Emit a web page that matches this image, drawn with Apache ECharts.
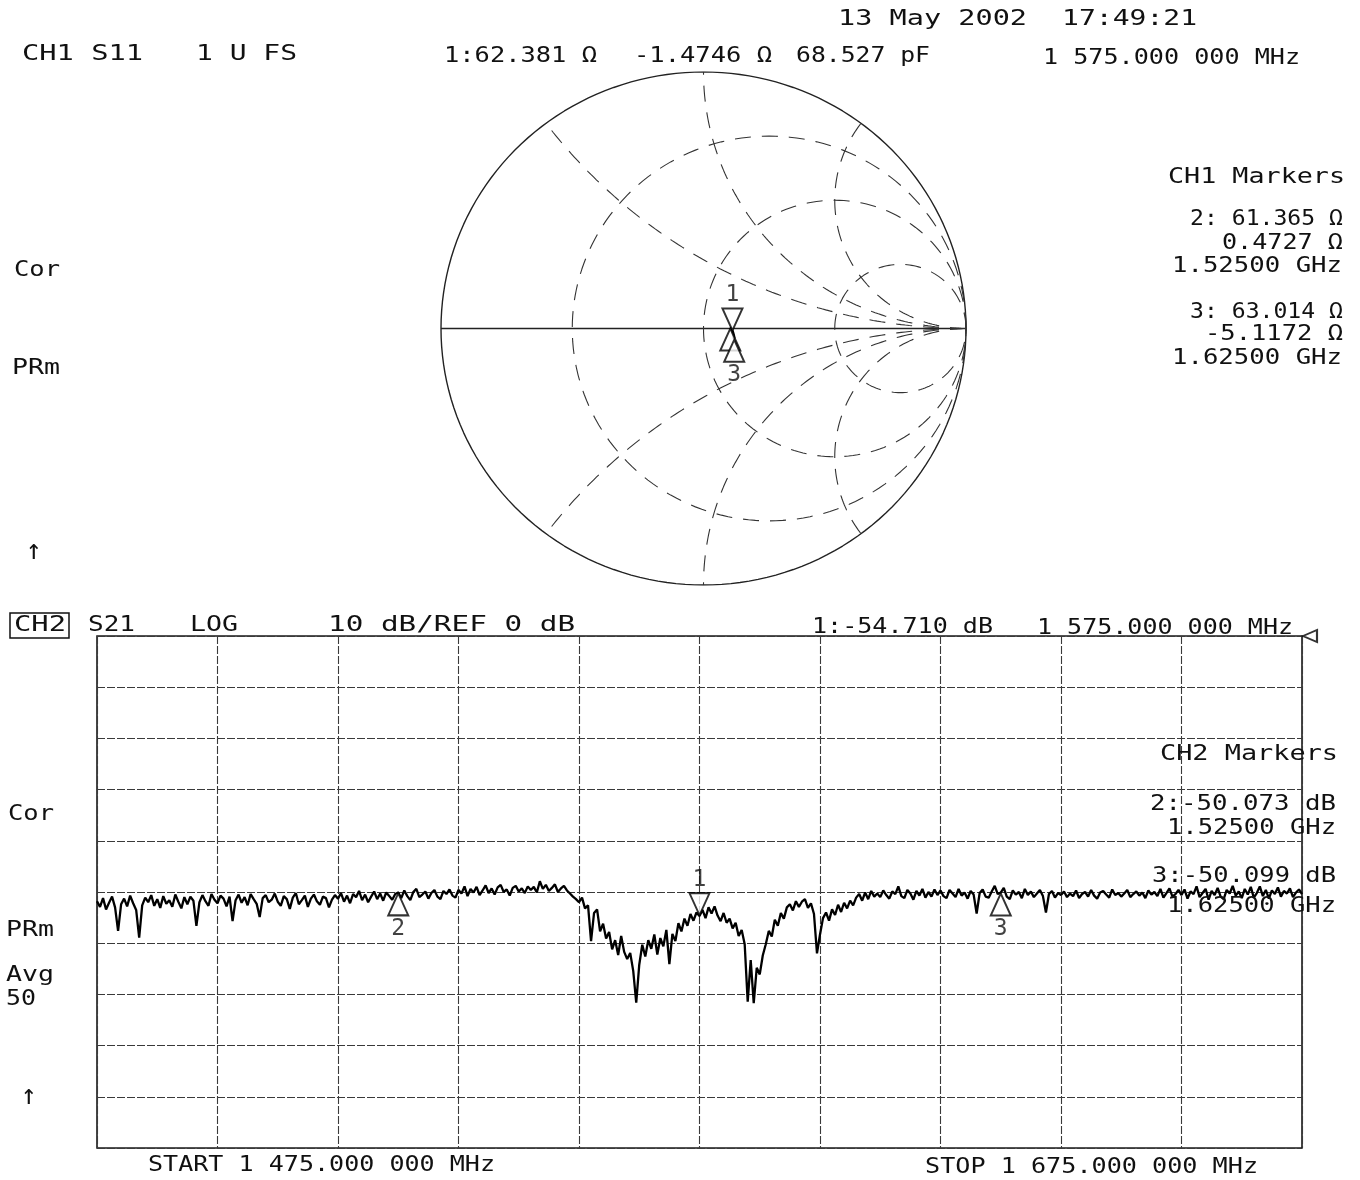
<!DOCTYPE html>
<html><head><meta charset="utf-8">
<script src="https://cdn.jsdelivr.net/npm/echarts@6/dist/echarts.min.js"></script>
<style>html,body{margin:0;padding:0;background:#fff}#c{width:1360px;height:1180px}</style>
</head><body><div id="c"></div>
<script>
// ---------- data ----------
const freqStartMHz = 1475;
const freqStopMHz = 1675;
const freqStepMHz = 0.5;
const refLevelDB = 0;
const dbPerDiv = 10;

// CH2 S21 log magnitude trace (dB), 0.5 MHz steps from 1475 MHz
const s21dB = [
 -51.8,-52.9,-51.2,-53.4,-52.1,-50.9,-53.0,-57.6,-52.4,-51.3,-52.8,-50.7,-52.2,-53.5,-58.9,-52.6,-51.1,-52.0,-50.6,-52.7,
 -51.4,-53.1,-50.8,-52.3,-51.6,-52.9,-50.5,-51.9,-53.2,-51.0,-52.4,-50.9,-51.7,-56.6,-52.0,-50.6,-51.8,-52.7,-50.4,-51.5,
 -52.2,-50.7,-51.3,-52.8,-50.9,-55.7,-51.6,-50.5,-52.1,-51.0,-52.6,-50.4,-51.4,-52.3,-54.9,-51.2,-50.6,-52.0,-51.5,-50.3,
 -51.9,-52.7,-50.8,-51.4,-53.3,-51.1,-50.2,-52.4,-51.6,-50.7,-52.9,-51.3,-50.5,-51.8,-52.5,-50.9,-51.2,-53.0,-51.5,-50.6,
 -51.3,-50.2,-51.9,-50.7,-52.2,-50.4,-51.0,-49.8,-51.6,-50.5,-52.0,-50.9,-49.9,-51.4,-50.3,-51.7,-50.1,-50.8,-51.5,-50.4,
 -50.1,-51.2,-49.7,-50.8,-51.6,-50.0,-49.4,-51.0,-50.5,-49.9,-51.3,-50.2,-49.6,-50.9,-51.4,-49.8,-50.4,-49.5,-50.7,-51.1,
 -49.6,-50.3,-48.9,-50.8,-49.4,-50.1,-49.0,-50.6,-49.7,-48.7,-50.2,-49.3,-50.5,-49.1,-48.6,-50.0,-49.5,-50.7,-49.2,-48.8,
 -49.9,-49.3,-50.2,-48.9,-49.6,-49.0,-50.1,-47.9,-49.4,-48.6,-49.8,-49.2,-48.5,-50.0,-49.3,-48.8,-49.7,-50.3,-50.9,-51.4,
 -52.0,-51.1,-53.2,-52.6,-59.6,-54.1,-53.4,-57.7,-56.2,-59.1,-57.8,-61.2,-59.4,-62.3,-58.6,-61.7,-63.1,-61.9,-65.4,-71.6,
 -64.2,-60.3,-62.6,-59.4,-61.1,-58.3,-62.2,-59.0,-60.6,-57.4,-64.1,-58.2,-59.6,-56.1,-57.7,-55.2,-56.6,-54.3,-55.6,-54.0,
 -54.7,-53.5,-55.1,-53.0,-54.2,-52.8,-54.6,-55.7,-54.1,-56.0,-55.2,-57.1,-56.0,-58.6,-57.4,-60.2,-71.4,-63.3,-71.7,-64.8,
 -66.1,-62.4,-60.2,-57.6,-58.7,-55.4,-56.6,-54.1,-55.2,-53.0,-52.4,-53.6,-51.8,-52.9,-51.9,-51.4,-53.1,-52.2,-54.3,-62.0,
 -58.3,-55.1,-54.0,-55.6,-53.4,-54.5,-52.5,-53.9,-52.1,-53.2,-51.7,-52.6,-51.1,-50.4,-51.7,-50.1,-51.4,-49.8,-50.9,-50.3,
 -51.0,-49.7,-50.6,-51.3,-49.9,-50.4,-48.9,-50.8,-51.2,-49.6,-50.3,-51.5,-49.8,-50.7,-49.4,-51.1,-50.0,-50.9,-49.5,-50.6,
 -49.7,-50.8,-51.2,-49.6,-50.3,-51.0,-49.4,-50.7,-50.1,-51.3,-49.8,-50.5,-54.2,-50.2,-49.5,-50.9,-51.1,-49.9,-48.8,-50.4,
 -50.1,-49.2,-50.9,-51.4,-49.7,-50.5,-50.0,-51.2,-49.4,-50.6,-49.9,-51.0,-50.3,-49.6,-50.8,-54.0,-50.4,-49.8,-51.1,-50.2,
 -50.6,-49.9,-51.0,-50.3,-50.8,-49.7,-51.2,-50.4,-50.0,-50.9,-49.6,-50.7,-51.3,-50.1,-49.8,-50.5,-51.1,-49.5,-50.6,-50.2,
 -50.9,-50.3,-49.6,-51.0,-50.4,-49.9,-50.7,-50.1,-51.2,-49.7,-50.5,-50.0,-50.8,-49.4,-51.1,-50.2,-49.3,-50.9,-50.4,-49.6,
 -50.6,-49.5,-51.3,-49.9,-50.4,-48.9,-51.0,-50.2,-49.4,-51.5,-49.8,-50.6,-49.2,-50.9,-51.4,-49.6,-50.3,-48.8,-50.7,-49.9,
 -51.2,-49.4,-50.5,-49.0,-51.1,-50.2,-48.9,-50.8,-49.6,-51.3,-49.7,-50.4,-49.1,-50.9,-49.8,-50.3,-49.3,-51.0,-50.1,-49.5,
 -50.4
];

// markers
const markerNames = ['1', '2', '3'];
const markerFreqMHz = [1575, 1525, 1625];
const markerS21dB = [-54.710, -50.073, -50.099];
const markerS11R = [62.381, 61.365, 63.014];
const markerS11X = [-1.4746, 0.4727, -5.1172];

// CH1 S11 trace (ohms) at a few frequencies
const s11FreqMHz = [1525, 1550, 1575, 1600, 1625];
const s11R = [61.365, 61.9, 62.381, 62.8, 63.014];
const s11X = [0.4727, -0.3, -1.4746, -3.2, -5.1172];
const z0 = 50;

// Smith chart graticule
const smithRCircles = [1 / 3, 1, 3];
const smithXArcs = [0.5, 1, 2];

// ---------- helpers ----------
function gamma(R, X) {
  const r = R / z0, x = X / z0;
  const den = (r + 1) * (r + 1) + x * x;
  return [((r - 1) * (r + 1) + x * x) / den, (2 * x) / den];
}
function rCircle(r) {
  const c = r / (1 + r), rad = 1 / (1 + r), pts = [];
  for (let k = 0; k <= 360; k += 2) {
    const t = k * Math.PI / 180;
    pts.push([c + rad * Math.cos(t), rad * Math.sin(t)]);
  }
  return pts;
}
function xArc(x) {
  const ax = Math.abs(x), s = Math.sign(x);
  const px = (ax * ax - 1) / (ax * ax + 1), py = 2 * ax / (ax * ax + 1);
  let tEnd = Math.atan2(py - 1 / ax, px - 1);
  if (tEnd > -Math.PI / 2) tEnd -= 2 * Math.PI;
  const pts = [], n = 120;
  for (let k = 0; k <= n; k++) {
    const t = -Math.PI / 2 + (tEnd + Math.PI / 2) * k / n;
    pts.push([1 + Math.cos(t) / ax, s * (1 / ax + Math.sin(t) / ax)]);
  }
  return pts;
}

const FS = 22;
const FONT = '"DejaVu Sans Mono", "Liberation Mono", monospace';
function T(text, x, y, width, align, fs) {
  const f = fs || FS;
  const nat = text.length * 0.602 * f;
  return {
    type: 'text', x: x, y: y, z: 100,
    scaleX: width / nat, scaleY: 1,
    style: {
      text: text, fontSize: f, fontFamily: FONT, fill: '#111',
      align: align || 'left', verticalAlign: 'middle',
      textAlign: align || 'left', textVerticalAlign: 'middle'
    }
  };
}

// ---------- series ----------
const gridStyle = { color: '#333', width: 1.1, type: [16, 11] };
const series = [];
// outer circle & real axis
series.push({ type: 'line', xAxisIndex: 0, yAxisIndex: 0, data: rCircle(0), showSymbol: false, silent: true,
  lineStyle: { color: '#222', width: 1.4 } });
series.push({ type: 'line', xAxisIndex: 0, yAxisIndex: 0, data: [[-1, 0], [1, 0]], showSymbol: false, silent: true,
  lineStyle: { color: '#222', width: 1.4 } });
smithRCircles.forEach(r => series.push({ type: 'line', xAxisIndex: 0, yAxisIndex: 0, data: rCircle(r),
  showSymbol: false, silent: true, lineStyle: gridStyle }));
smithXArcs.forEach(x => {
  [x, -x].forEach(v => series.push({ type: 'line', xAxisIndex: 0, yAxisIndex: 0, data: xArc(v),
    showSymbol: false, silent: true, lineStyle: gridStyle }));
});
// S11 trace
series.push({ type: 'line', xAxisIndex: 0, yAxisIndex: 0, showSymbol: false, smooth: true,
  data: s11R.map((R, i) => gamma(R, s11X[i])), lineStyle: { color: '#000', width: 3 } });
// markers
function markerItem(name, pt, down, showLabel) {
  return {
    name: name, value: pt,
    symbol: 'triangle', symbolSize: [20, 22], symbolRotate: down ? 180 : 0,
    symbolOffset: [0, down ? -12 : 12],
    label: { show: showLabel, formatter: name, position: down ? 'top' : 'bottom', distance: 1,
      fontSize: 23, fontFamily: FONT, color: '#111' }
  };
}
series.push({ type: 'scatter', xAxisIndex: 0, yAxisIndex: 0, z: 5,
  itemStyle: { color: '#fff', borderColor: '#000', borderWidth: 2 },
  data: markerNames.map((n, i) => markerItem(n, gamma(markerS11R[i], markerS11X[i]), i === 0, i !== 1)) });

// S21 trace
series.push({ type: 'line', xAxisIndex: 1, yAxisIndex: 1, showSymbol: false, z: 4,
  data: s21dB.map((v, i) => [i * freqStepMHz, v]), lineStyle: { color: '#000', width: 2.3 } });
series.push({ type: 'scatter', xAxisIndex: 1, yAxisIndex: 1, z: 6,
  itemStyle: { color: '#fff', borderColor: '#000', borderWidth: 2 },
  data: markerNames.map((n, i) => markerItem(n, [markerFreqMHz[i] - freqStartMHz, markerS21dB[i]], i === 0, true)) });
// reference level pointer
series.push({ type: 'scatter', xAxisIndex: 1, yAxisIndex: 1, z: 6,
  itemStyle: { color: '#fff', borderColor: '#000', borderWidth: 2 },
  data: [{ value: [freqStopMHz - freqStartMHz, refLevelDB], symbol: 'triangle', symbolSize: [12, 14],
    symbolRotate: 90, symbolOffset: [8, 0] }] });

const bottomSplit = { show: true, lineStyle: { color: '#3a3a3a', width: 1.1, type: [8, 2] } };

const option = {
  animation: false,
  backgroundColor: '#fff',
  grid: [
    { left: 441, top: 72, width: 525, height: 513, show: false },
    { left: 97, top: 636, width: 1205, height: 512, show: true, borderColor: '#1a1a1a', borderWidth: 1.6 }
  ],
  xAxis: [
    { gridIndex: 0, type: 'value', min: -1, max: 1, show: false },
    { gridIndex: 1, type: 'value', min: 0, max: freqStopMHz - freqStartMHz, interval: 20,
      axisLabel: { show: false }, axisTick: { show: false }, axisLine: { show: false }, splitLine: bottomSplit }
  ],
  yAxis: [
    { gridIndex: 0, type: 'value', min: -1, max: 1, show: false },
    { gridIndex: 1, type: 'value', min: refLevelDB - 10 * dbPerDiv, max: refLevelDB, interval: dbPerDiv,
      axisLabel: { show: false }, axisTick: { show: false }, axisLine: { show: false }, splitLine: bottomSplit }
  ],
  series: series,
  graphic: [
    T('13 May 2002', 838, 19, 189),
    T('17:49:21', 1062, 19, 135),
    T('CH1 S11', 22, 54, 121),
    T('1 U FS', 196, 54, 101),
    T('1:62.381 Ω', 444, 56, 153),
    T('-1.4746 Ω', 634, 56, 138),
    T('68.527 pF', 796, 56, 134),
    T('1 575.000 000 MHz', 1043, 58, 257),
    T('CH1 Markers', 1345, 177, 177, 'right'),
    T('2: 61.365 Ω', 1343, 219, 153, 'right'),
    T('0.4727 Ω', 1343, 243, 121, 'right'),
    T('1.52500 GHz', 1342, 266, 170, 'right'),
    T('3: 63.014 Ω', 1343, 312, 153, 'right'),
    T('-5.1172 Ω', 1343, 334, 138, 'right'),
    T('1.62500 GHz', 1342, 358, 170, 'right'),
    T('Cor', 14, 270, 46),
    T('PRm', 12, 368, 48),
    T('↑', 26, 552, 16, 'left', 28),
    { type: 'rect', shape: { x: 10, y: 613, width: 59, height: 25 }, z: 100,
      style: { fill: 'none', stroke: '#111', lineWidth: 1.5 } },
    T('CH2', 14, 625, 52),
    T('S21', 88, 625, 47),
    T('LOG', 190, 625, 48),
    T('10 dB/REF 0 dB', 328, 625, 247),
    T('1:-54.710 dB', 812, 627, 181),
    T('1 575.000 000 MHz', 1037, 628, 256),
    T('CH2 Markers', 1338, 754, 178, 'right'),
    T('2:-50.073 dB', 1336, 804, 186, 'right'),
    T('1.52500 GHz', 1336, 828, 169, 'right'),
    T('3:-50.099 dB', 1336, 876, 184, 'right'),
    T('1.62500 GHz', 1336, 906, 169, 'right'),
    T('Cor', 8, 814, 46),
    T('PRm', 6, 930, 48),
    T('Avg', 6, 975, 48),
    T('50', 6, 999, 30),
    T('↑', 21, 1097, 16, 'left', 28),
    T('START 1 475.000 000 MHz', 148, 1165, 347),
    T('STOP 1 675.000 000 MHz', 925, 1167, 333)
  ]
};
const chart = echarts.init(document.getElementById('c'), null, { renderer: 'canvas' });
chart.setOption(option);
</script>
</body></html>
